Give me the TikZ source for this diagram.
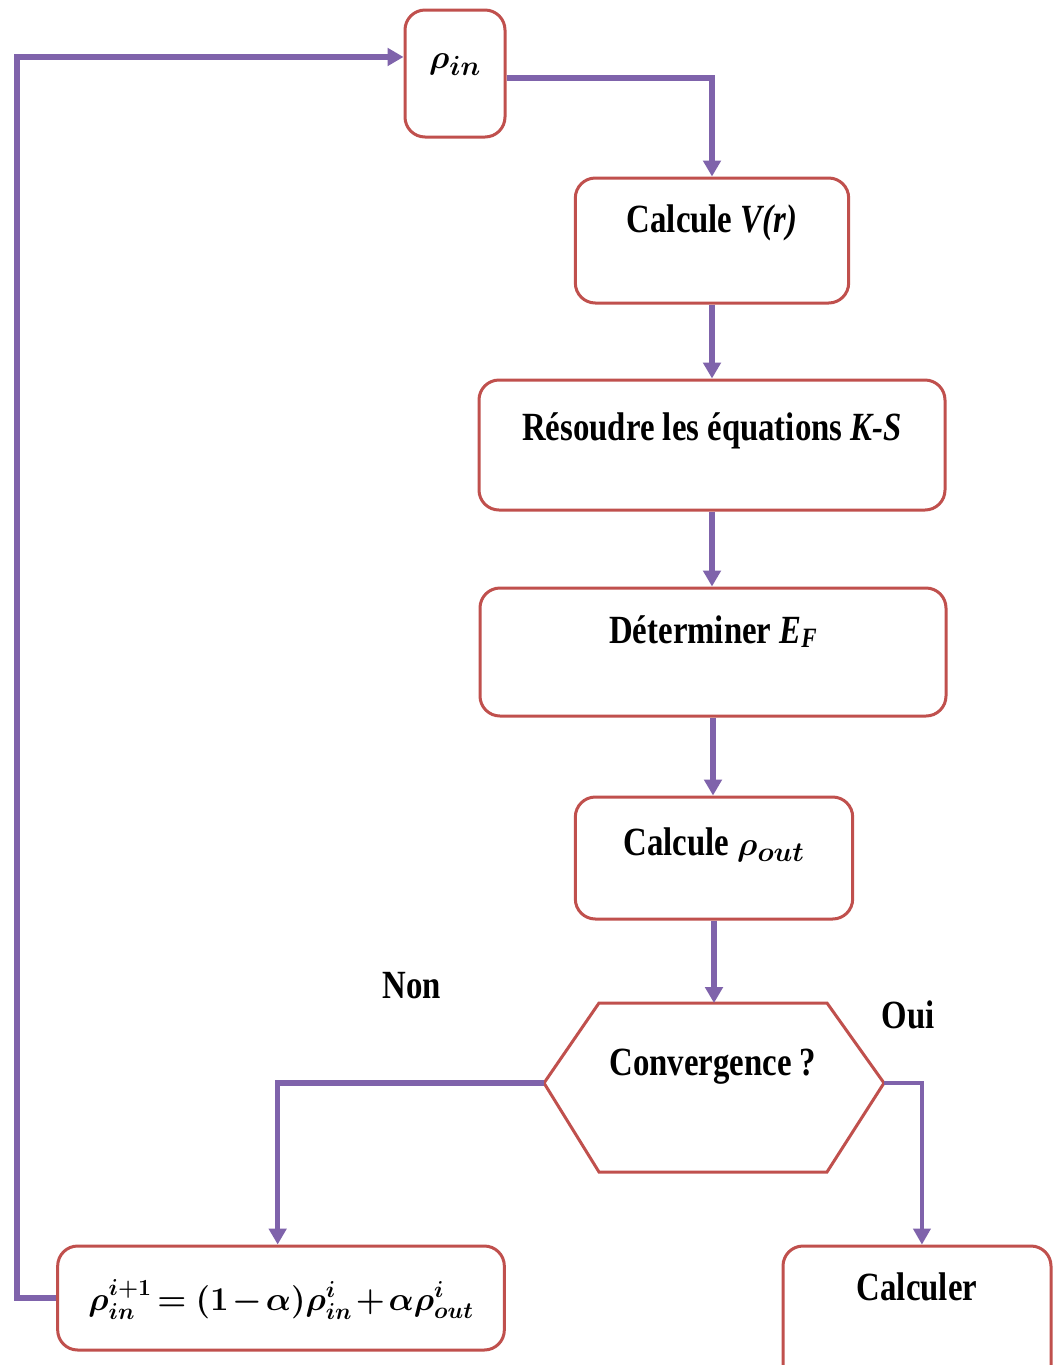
\documentclass[tikz,border=0pt]{standalone}
\usepackage{amsmath}
\usepackage{bm}
\usepackage{fontspec}
\setmainfont{Liberation Serif}[FakeStretch=0.82]
\usetikzlibrary{arrows.meta}
\definecolor{boxred}{HTML}{C0504D}
\definecolor{flowpurple}{HTML}{7F63AB}
\tikzset{
  box/.style n args={3}{draw=boxred, line width=2.25pt, rounded corners=15pt,
    text height=#1, text depth=#2, minimum width=#3, inner sep=0pt, anchor=base,
    fill=white},
  lbl/.style={anchor=base, inner sep=0pt},
  flow/.style={draw=flowpurple, line width=4.2pt,
    -{Triangle[width=13pt,length=12pt]}},
  flowthin/.style={flow, line width=2.4pt},
  hexshape/.style={draw=boxred, line width=2.25pt, line join=miter},
  every node/.style={font=\fontsize{30pt}{36pt}\selectfont\bfseries}
}
\begin{document}
\begin{tikzpicture}[x=0.75pt,y=-0.75pt]
\useasboundingbox (0,0) rectangle (1055,1365);
\fill[white] (0,0) rectangle (1055,1365);

% boxes
\node[box={43.5pt}{51.75pt}{75pt}] (rhoin) at (455,68) {$\bm{\rho_{in}}$};
\node[box={40.5pt}{53.25pt}{205pt}] (vr) at (712,232) {Calcule \textit{V(r)}};
\node[box={45pt}{52.5pt}{349.5pt}] (ks) at (712,440) {Résoudre les équations \textit{K-S}};
\node[box={41.25pt}{54.75pt}{349.5pt}] (ef) at (713,643) {Déterminer \textit{E}\raisebox{-0.12em}{\fontsize{21pt}{24pt}\selectfont\textit{F}}};
\node[box={43.5pt}{48pt}{208pt}] (rout) at (714,855) {Calcule $\bm{\rho_{out}}$};
\node[box={48pt}{30pt}{335pt}] (form) at (281,1310)
  {\fontsize{26pt}{30pt}\selectfont$\bm{\rho_{in}^{i+1} \mkern-2mu= (1\mkern-2mu-\mkern-2mu\alpha)\rho_{in}^{i} \mkern-2mu+\mkern-2mu \alpha\rho_{out}^{i}}$};
\node[box={40.5pt}{70pt}{201pt}] (calc) at (917,1300) {Calculer};

% decision hexagon
\coordinate (hexL) at (544,1083);
\coordinate (hexR) at (884,1083);
\coordinate (hexT) at (712,1003);
\draw[hexshape] (hexL) -- (599,1003) -- (827,1003) -- (hexR) -- (827,1172) -- (599,1172) -- cycle;
\node[lbl] (conv) at (713,1075) {Convergence ?};

% labels
\node[lbl] (non) at (412,998) {Non};
\node[lbl] (oui) at (908,1028) {Oui};

% connectors
\coordinate (rhoinOut) at ([yshift=-3.4pt]rhoin.east);
\coordinate (rhoinIn) at ([yshift=12.4pt]rhoin.west);
\coordinate (loopx) at (17,0);
\draw[flow] (rhoinOut) -| (vr.north);
\draw[flow] (vr.south) -- (vr.south |- ks.north);
\draw[flow] (ks.south) -- (ks.south |- ef.north);
\draw[flow] (ef.south) -- (ef.south |- rout.north);
\draw[flow] (rout.south) -- (rout.south |- hexT);
\draw[flow] (hexL) -| ([xshift=-2.5pt]form.north);
\draw[flowthin] (hexR) -| ([xshift=3.7pt]calc.north);
\draw[flow] (form.west) -- (form.west -| loopx) -- (loopx |- rhoinIn) -- (rhoinIn);
\end{tikzpicture}
\end{document}
